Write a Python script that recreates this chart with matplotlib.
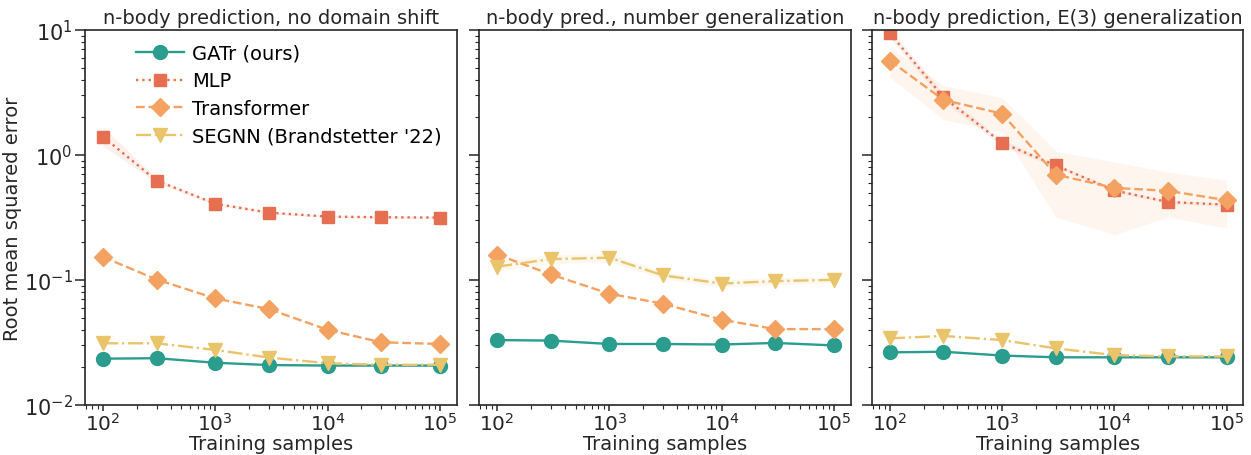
import numpy as np
import matplotlib
matplotlib.use("Agg")
import matplotlib.pyplot as plt

samples = [1e2, 3e2, 1e3, 3e3, 1e4, 3e4, 1e5]

titles = ["n-body prediction, no domain shift",
          "n-body pred., number generalization",
          "n-body prediction, E(3) generalization"]

labels = ["GATr (ours)", "MLP", "Transformer", "SEGNN (Brandstetter '22)"]

# panel 1: no domain shift
gatr_1 = [0.0235, 0.0237, 0.0218, 0.0209, 0.0207, 0.0207, 0.0207]
mlp_1 = [1.40, 0.624, 0.408, 0.346, 0.322, 0.318, 0.316]
trf_1 = [0.153, 0.101, 0.0713, 0.0586, 0.0400, 0.0318, 0.0308]
segnn_1 = [0.0312, 0.0312, 0.0276, 0.0240, 0.0216, 0.0210, 0.0210]

# panel 2: number generalization
gatr_2 = [0.0331, 0.0328, 0.0308, 0.0308, 0.0305, 0.0314, 0.0300]
mlp_2 = [np.nan] * 7
trf_2 = [0.160, 0.111, 0.0778, 0.0647, 0.0482, 0.0405, 0.0405]
segnn_2 = [0.128, 0.147, 0.151, 0.109, 0.0938, 0.098, 0.1005]

# panel 3: E(3) generalization
gatr_3 = [0.0264, 0.0267, 0.0249, 0.0241, 0.0241, 0.0241, 0.0241]
mlp_3 = [9.4, 2.9, 1.25, 0.826, 0.521, 0.421, 0.401]
trf_3 = [5.69, 2.76, 2.14, 0.697, 0.546, 0.517, 0.435]
segnn_3 = [0.0342, 0.0357, 0.0331, 0.0284, 0.0251, 0.0245, 0.0245]

# uncertainty bands (lower, upper)
mlp_1_lo = [1.18, 0.60, 0.395, 0.338, 0.316, 0.312, 0.310]
mlp_1_hi = [1.68, 0.65, 0.420, 0.355, 0.329, 0.325, 0.322]
segnn_2_lo = [0.118, 0.135, 0.140, 0.102, 0.088, 0.092, 0.095]
segnn_2_hi = [0.140, 0.160, 0.163, 0.117, 0.100, 0.105, 0.107]
trf_3_lo = [4.2, 1.92, 1.53, 0.32, 0.231, 0.32, 0.26]
trf_3_hi = [7.3, 3.6, 2.87, 1.07, 0.88, 0.73, 0.63]
mlp_3_lo = [8.6, 2.7, 1.18, 0.80, 0.505, 0.41, 0.39]
mlp_3_hi = [10.3, 3.1, 1.32, 0.85, 0.537, 0.432, 0.412]

colors = ["#2a9d8f", "#e76f51", "#f4a261", "#e9c46a"]
markers = ["o", "s", "D", "v"]
styles = ["-", ":", "--", "-."]
msizes = [10, 8, 9, 10]

panels = [
    dict(vals=[gatr_1, mlp_1, trf_1, segnn_1], bands={1: (mlp_1_lo, mlp_1_hi)}),
    dict(vals=[gatr_2, mlp_2, trf_2, segnn_2], bands={3: (segnn_2_lo, segnn_2_hi)}),
    dict(vals=[gatr_3, mlp_3, trf_3, segnn_3], bands={2: (trf_3_lo, trf_3_hi), 1: (mlp_3_lo, mlp_3_hi)}),
]

plt.rcParams["font.family"] = ["DejaVu Sans"]
text_col = "#262626"
fig = plt.figure(figsize=(12.51, 4.56), dpi=100)
lefts = [0.068, 0.383, 0.697]
width = 0.297
bottom, height = 0.1095, 0.8225

for i, p in enumerate(panels):
    ax = fig.add_axes([lefts[i], bottom, width, height])
    for k in range(4):
        v = np.array(p["vals"][k], dtype=float)
        if k in p["bands"]:
            lo, hi = p["bands"][k]
            ax.fill_between(samples, lo, hi, color=colors[k], alpha=0.1, lw=0)
        ax.plot(samples, v, color=colors[k], ls=styles[k], marker=markers[k],
                ms=msizes[k], lw=1.7, label=labels[k])
    ax.set_xscale("log")
    ax.set_yscale("log")
    ax.set_ylim(1e-2, 1e1)
    ax.set_xlim(10 ** 1.84, 10 ** 5.15)
    ax.set_title(titles[i], fontsize=14, color=text_col, pad=5)
    ax.set_xlabel("Training samples", fontsize=14, color=text_col, labelpad=0)
    ax.tick_params(axis="x", which="major", length=4, width=1.1, labelsize=14.5, colors=text_col, pad=1)
    ax.tick_params(axis="y", which="major", length=7, width=1.1, labelsize=15, colors=text_col, pad=2)
    ax.tick_params(which="minor", length=3, width=0.8, colors=text_col)
    for s in ax.spines.values():
        s.set_linewidth(1.2)
        s.set_color(text_col)
    if i == 0:
        ax.set_ylabel("Root mean squared error", fontsize=14, color=text_col, labelpad=1)
        ax.legend(loc="upper left", bbox_to_anchor=(0.1, 1.0), frameon=False,
                  fontsize=14, handlelength=2.5, handletextpad=0.4, labelspacing=0.45,
                  borderaxespad=0.3)
    else:
        ax.tick_params(axis="y", which="both", labelleft=False)

fig.savefig("out.png", dpi=100)
